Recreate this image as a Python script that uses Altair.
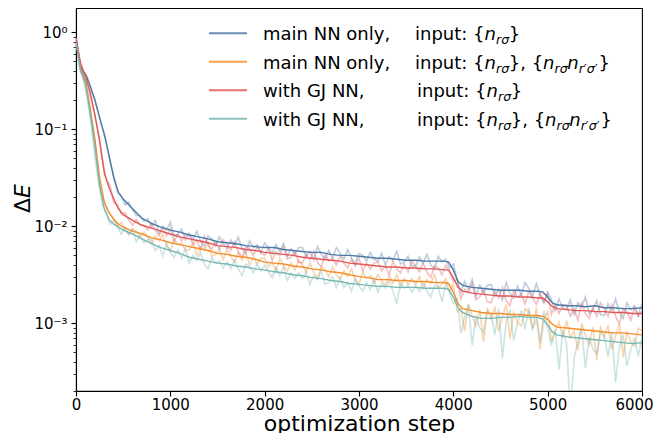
import altair as alt
import pandas as pd

# ---------------- data (log10 of ΔE) ----------------
SERIES = [
    "main NN only, input: {n_rσ}",
    "main NN only, input: {n_rσ}, {n_rσ n_r'σ'}",
    "with GJ NN, input: {n_rσ}",
    "with GJ NN, input: {n_rσ}, {n_rσ n_r'σ'}",
]
COLORS = ["#4e79a7", "#f28e2b", "#e15759", "#76b7b2"]

RAW_STEPS = list(range(0, 6001, 40))

blue_raw = [
    -0.05, -0.32, -0.42, -0.46, -0.59, -0.69, -0.84, -0.99, -1.13, -1.33,
    -1.48, -1.65, -1.69, -1.78, -1.75, -1.83, -1.89, -1.89, -1.95, -1.92,
    -2.00, -1.94, -2.07, -2.00, -2.04, -1.96, -2.10, -2.08, -2.03, -2.14,
    -2.07, -2.14, -2.05, -2.15, -2.21, -2.10, -2.13, -2.20, -2.11, -2.18,
    -2.23, -2.14, -2.20, -2.11, -2.23, -2.28, -2.15, -2.22, -2.19, -2.27,
    -2.17, -2.23, -2.28, -2.19, -2.26, -2.18, -2.31, -2.23, -2.29, -2.22,
    -2.22, -2.31, -2.26, -2.35, -2.21, -2.29, -2.34, -2.25, -2.33, -2.22,
    -2.28, -2.34, -2.24, -2.33, -2.39, -2.28, -2.30, -2.36, -2.27, -2.34,
    -2.36, -2.28, -2.40, -2.31, -2.35, -2.26, -2.39, -2.37, -2.31, -2.41,
    -2.41, -2.32, -2.38, -2.29, -2.40, -2.44, -2.31, -2.37, -2.34, -2.43,
    -2.39, -2.55, -2.68, -2.57, -2.66, -2.55, -2.72, -2.61, -2.69, -2.61,
    -2.60, -2.72, -2.65, -2.76, -2.58, -2.69, -2.74, -2.62, -2.71, -2.58,
    -2.64, -2.72, -2.59, -2.71, -2.79, -2.68, -2.76, -2.87, -2.75, -2.84,
    -2.86, -2.76, -2.91, -2.79, -2.83, -2.73, -2.90, -2.86, -2.77, -2.91,
    -2.92, -2.80, -2.87, -2.75, -2.89, -2.95, -2.79, -2.86, -2.82, -2.92,
    -2.80,
]
orange_raw = [
    -0.08, -0.35, -0.48, -0.62, -0.89, -1.12, -1.48, -1.69, -1.81, -1.87,
    -1.92, -2.00, -1.96, -2.04, -2.09, -2.03, -2.05, -2.11, -2.06, -2.11,
    -2.18, -2.10, -2.15, -2.08, -2.20, -2.25, -2.13, -2.19, -2.17, -2.25,
    -2.24, -2.17, -2.30, -2.21, -2.25, -2.17, -2.31, -2.29, -2.24, -2.34,
    -2.24, -2.31, -2.37, -2.27, -2.35, -2.26, -2.40, -2.32, -2.39, -2.33,
    -2.33, -2.42, -2.37, -2.46, -2.33, -2.41, -2.46, -2.38, -2.45, -2.35,
    -2.40, -2.47, -2.38, -2.47, -2.54, -2.42, -2.45, -2.52, -2.42, -2.50,
    -2.54, -2.46, -2.52, -2.44, -2.55, -2.60, -2.47, -2.54, -2.51, -2.59,
    -2.50, -2.56, -2.61, -2.51, -2.59, -2.50, -2.63, -2.54, -2.60, -2.54,
    -2.60, -2.52, -2.64, -2.55, -2.59, -2.50, -2.63, -2.60, -2.54, -2.67,
    -2.60, -2.88, -2.85, -3.08, -2.80, -2.92, -3.03, -2.86, -3.19, -2.84,
    -2.96, -2.83, -3.08, -2.93, -2.81, -3.16, -2.89, -2.99, -3.03, -2.85,
    -2.88, -3.06, -2.84, -3.27, -2.96, -2.88, -3.19, -3.08, -2.99, -3.15,
    -2.97, -3.15, -3.08, -3.28, -3.00, -3.12, -3.22, -3.04, -3.38, -3.03,
    -3.15, -3.02, -3.27, -3.13, -3.01, -3.35, -3.08, -3.19, -3.23, -3.05,
    -3.08,
]
red_raw = [
    -0.05, -0.29, -0.41, -0.55, -0.69, -0.86, -1.05, -1.30, -1.52, -1.57,
    -1.76, -1.78, -1.87, -1.86, -1.94, -1.99, -1.93, -1.99, -1.99, -2.04,
    -1.97, -2.04, -2.10, -2.02, -2.10, -2.02, -2.16, -2.08, -2.15, -2.09,
    -2.09, -2.19, -2.14, -2.24, -2.10, -2.19, -2.24, -2.16, -2.24, -2.14,
    -2.19, -2.25, -2.16, -2.26, -2.32, -2.21, -2.23, -2.30, -2.21, -2.28,
    -2.30, -2.22, -2.35, -2.26, -2.30, -2.21, -2.34, -2.32, -2.26, -2.37,
    -2.38, -2.29, -2.35, -2.26, -2.37, -2.42, -2.29, -2.36, -2.33, -2.40,
    -2.31, -2.38, -2.43, -2.34, -2.41, -2.33, -2.46, -2.38, -2.44, -2.38,
    -2.37, -2.46, -2.41, -2.50, -2.36, -2.44, -2.48, -2.39, -2.47, -2.36,
    -2.41, -2.47, -2.38, -2.47, -2.53, -2.41, -2.43, -2.50, -2.40, -2.47,
    -2.57, -2.55, -2.75, -2.65, -2.69, -2.59, -2.76, -2.73, -2.65, -2.78,
    -2.79, -2.67, -2.74, -2.63, -2.77, -2.82, -2.66, -2.73, -2.70, -2.80,
    -2.67, -2.74, -2.81, -2.69, -2.78, -2.70, -2.91, -2.81, -2.90, -2.81,
    -2.81, -2.93, -2.85, -2.97, -2.79, -2.90, -2.95, -2.84, -2.93, -2.79,
    -2.85, -2.93, -2.81, -2.93, -3.01, -2.85, -2.88, -2.97, -2.84, -2.93,
    -2.88,
]
teal_raw = [
    -0.09, -0.39, -0.49, -0.70, -0.95, -1.28, -1.56, -1.78, -1.86, -1.98,
    -1.94, -2.01, -2.08, -2.01, -2.08, -2.03, -2.16, -2.10, -2.17, -2.14,
    -2.14, -2.25, -2.20, -2.31, -2.18, -2.27, -2.32, -2.24, -2.33, -2.23,
    -2.38, -2.30, -2.35, -2.27, -2.39, -2.44, -2.32, -2.38, -2.36, -2.43,
    -2.37, -2.44, -2.35, -2.44, -2.51, -2.39, -2.42, -2.48, -2.39, -2.46,
    -2.40, -2.47, -2.53, -2.43, -2.51, -2.42, -2.56, -2.48, -2.54, -2.48,
    -2.54, -2.47, -2.60, -2.51, -2.55, -2.46, -2.60, -2.58, -2.52, -2.63,
    -2.53, -2.63, -2.58, -2.67, -2.54, -2.62, -2.67, -2.58, -2.65, -2.55,
    -2.68, -2.59, -2.64, -2.56, -2.67, -2.80, -2.58, -2.64, -2.61, -2.68,
    -2.61, -2.67, -2.58, -2.67, -2.73, -2.61, -2.63, -2.78, -2.59, -2.69,
    -2.80, -2.74, -3.10, -2.94, -2.81, -3.23, -2.92, -3.05, -3.09, -2.88,
    -2.90, -3.12, -2.85, -3.36, -2.99, -2.86, -3.18, -3.00, -2.87, -3.06,
    -2.84, -3.06, -2.96, -3.20, -2.87, -3.05, -3.23, -3.06, -3.48, -3.07,
    -3.21, -3.90, -3.37, -3.19, -3.05, -3.46, -3.14, -3.27, -3.31, -3.10,
    -3.13, -3.35, -3.09, -3.61, -3.25, -3.12, -3.44, -3.28, -3.15, -3.34,
    -3.15,
]

SMOOTH_STEPS = [0, 50, 100, 150, 200, 250, 300, 350, 400, 450, 500,
                600, 700, 800, 900, 1000, 1100, 1200, 1300, 1400, 1500,
                1600, 1700, 1800, 1900, 2000, 2100, 2200, 2300, 2400, 2500,
                2600, 2700, 2800, 2900, 3000, 3100, 3200, 3300, 3400, 3500,
                3600, 3700, 3800, 3900,
                3950, 4000, 4050,
                4100, 4200, 4300, 4400, 4500, 4600, 4700, 4800, 4900,
                4950, 5000, 5050,
                5100, 5200, 5300, 5400, 5500, 5600, 5700, 5800, 5900, 6000]

blue_smooth = [
    -0.06, -0.37, -0.43, -0.55, -0.70, -0.88, -1.05, -1.27, -1.50, -1.65, -1.72,
    -1.82, -1.92, -1.97, -2.01, -2.04, -2.06, -2.09, -2.11, -2.13, -2.16,
    -2.17, -2.18, -2.20, -2.21, -2.22, -2.22, -2.24, -2.25, -2.26, -2.27,
    -2.27, -2.29, -2.30, -2.30, -2.31, -2.32, -2.33, -2.33, -2.34, -2.35,
    -2.35, -2.36, -2.36, -2.36,
    -2.37, -2.45, -2.57,
    -2.61, -2.63, -2.64, -2.65, -2.66, -2.66, -2.66, -2.67, -2.67,
    -2.68, -2.73, -2.79,
    -2.81, -2.82, -2.82, -2.83, -2.82, -2.84, -2.84, -2.85, -2.85, -2.84,
]
orange_smooth = [
    -0.08, -0.38, -0.50, -0.78, -1.10, -1.50, -1.75, -1.86, -1.93, -1.98, -2.01,
    -2.05, -2.08, -2.12, -2.14, -2.17, -2.19, -2.21, -2.23, -2.25, -2.28,
    -2.29, -2.31, -2.32, -2.34, -2.37, -2.38, -2.39, -2.41, -2.42, -2.44,
    -2.45, -2.47, -2.48, -2.50, -2.52, -2.53, -2.55, -2.55, -2.56, -2.56,
    -2.57, -2.57, -2.58, -2.58,
    -2.59, -2.68, -2.80,
    -2.85, -2.87, -2.89, -2.90, -2.90, -2.91, -2.91, -2.92, -2.92,
    -2.93, -2.96, -3.01,
    -3.04, -3.05, -3.06, -3.07, -3.08, -3.09, -3.10, -3.10, -3.11, -3.12,
]
red_smooth = [
    -0.06, -0.33, -0.45, -0.62, -0.85, -1.12, -1.45, -1.60, -1.72, -1.82, -1.88,
    -1.94, -1.99, -2.02, -2.05, -2.08, -2.11, -2.13, -2.15, -2.17, -2.20,
    -2.21, -2.22, -2.24, -2.25, -2.27, -2.28, -2.29, -2.30, -2.32, -2.33,
    -2.34, -2.35, -2.36, -2.38, -2.39, -2.40, -2.41, -2.42, -2.42, -2.43,
    -2.43, -2.44, -2.44, -2.45,
    -2.45, -2.53, -2.63,
    -2.67, -2.69, -2.70, -2.71, -2.72, -2.72, -2.73, -2.73, -2.74,
    -2.74, -2.78, -2.83,
    -2.85, -2.86, -2.87, -2.87, -2.88, -2.88, -2.89, -2.89, -2.90, -2.90,
]
teal_smooth = [
    -0.10, -0.40, -0.53, -0.82, -1.18, -1.58, -1.82, -1.93, -1.98, -2.01, -2.04,
    -2.08, -2.13, -2.18, -2.22, -2.25, -2.28, -2.32, -2.34, -2.36, -2.38,
    -2.39, -2.41, -2.42, -2.44, -2.45, -2.47, -2.48, -2.50, -2.51, -2.53,
    -2.54, -2.56, -2.57, -2.59, -2.60, -2.61, -2.62, -2.62, -2.63, -2.63,
    -2.63, -2.64, -2.64, -2.64,
    -2.65, -2.73, -2.84,
    -2.89, -2.93, -2.95, -2.95, -2.94, -2.94, -2.93, -2.94, -2.94,
    -2.96, -3.02, -3.09,
    -3.12, -3.14, -3.15, -3.16, -3.17, -3.18, -3.19, -3.20, -3.21, -3.20,
]

RAW = [blue_raw, orange_raw, red_raw, teal_raw]
SMOOTH = [blue_smooth, orange_smooth, red_smooth, teal_smooth]

X_TICKS = [0, 1000, 2000, 3000, 4000, 5000, 6000]
Y_DOMAIN = [2.0e-4, 1.78]
Y_TICKS = [m * 10.0 ** k for k in range(-4, 1) for m in range(1, 10)
           if Y_DOMAIN[0] <= m * 10.0 ** k <= Y_DOMAIN[1]]

# ---------------- layout ----------------
W, H = 566, 383
FONT = "DejaVu Sans"

MAJOR = "abs(log(datum.value)/LN10 - round(log(datum.value)/LN10)) < 0.000001"
Y_LABELS = ("abs(datum.value/1 - 1) < 1e-6 ? '10\u2070' : "
            "abs(datum.value/0.1 - 1) < 1e-6 ? '10\u207b\u00b9' : "
            "abs(datum.value/0.01 - 1) < 1e-6 ? '10\u207b\u00b2' : "
            "abs(datum.value/0.001 - 1) < 1e-6 ? '10\u207b\u00b3' : ''")

x_enc = alt.X("step:Q",
              scale=alt.Scale(domain=[0, 6000], nice=False),
              axis=alt.Axis(values=X_TICKS, format="d", grid=False,
                            tickSize=5, tickWidth=1.1, labelPadding=1,
                            labelFontSize=15, labelFlush=False,
                            labelOffset={"condition": {"test": "datum.value == 6000", "value": -8},
                                         "value": 0},
                            title="optimization step", titleFontSize=22,
                            titleFontWeight="normal", titleY=39,
                            titleBaseline="alphabetic"))
y_enc = alt.Y("dE:Q",
              scale=alt.Scale(type="log", domain=Y_DOMAIN, nice=False),
              axis=alt.Axis(values=Y_TICKS, grid=False, labelExpr=Y_LABELS,
                            labelOverlap=False, labelFontSize=15, labelPadding=4,
                            tickSize={"condition": {"test": MAJOR, "value": 5}, "value": 3},
                            tickWidth={"condition": {"test": MAJOR, "value": 1.1}, "value": 0.8},
                            title=""))


def frame(steps, logs):
    return pd.DataFrame({"step": steps, "dE": [10.0 ** v for v in logs]})


layers = []
for vals, col in zip(RAW, COLORS):
    layers.append(alt.Chart(frame(RAW_STEPS, vals)).mark_line(
        clip=True, color=col, strokeWidth=1.6, opacity=0.38).encode(x=x_enc, y=y_enc))
for vals, col in zip(SMOOTH, COLORS):
    layers.append(alt.Chart(frame(SMOOTH_STEPS, vals)).mark_line(
        clip=True, color=col, strokeWidth=1.4).encode(x=x_enc, y=y_enc))

# ---------------- legend (handles + mathtext-like labels) ----------------
LEG_NAMES = ["main NN only,", "main NN only,", "with GJ NN,", "with GJ NN,"]
LEG_PAIR = [False, True, False, True]
LEG_INPUT_X = [339, 339, 341, 341]
ROW0, ROWSTEP = 32.0, 28.5
FS = 18
SUBFS = 0.7 * FS
ADV = {"i": .278, "n": .634, "p": .635, "u": .634, "t": .392, ":": .337, " ": .318,
       "{": .636, "}": .636, ",": .318, "r": .411, "\u03c3": .603, "\u2032": .275}


def tw(s, size):
    return sum(ADV[c] for c in s) * size


up_rows, it_rows, handle_rows = [], [], []
for i, (name, pair, ix) in enumerate(zip(LEG_NAMES, LEG_PAIR, LEG_INPUT_X)):
    base = ROW0 + i * ROWSTEP
    handle_rows.append({"ly": base - 6.7, "c": COLORS[i]})
    up_rows.append({"px": 187, "py": base, "t": name, "s": FS})
    up_rows.append({"px": ix, "py": base, "t": "input:", "s": FS})
    x = ix + tw("input: ", FS)
    seq = [("{", False, False), ("n", True, False), ("r\u03c3", True, True), ("}", False, False)]
    if pair:
        seq += [(", ", False, False), ("{", False, False), ("n", True, False),
                ("r\u03c3", True, True), ("n", True, False),
                ("r\u2032\u03c3\u2032", True, True), ("}", False, False)]
    for txt, ital, sub in seq:
        size = SUBFS if sub else FS
        row = {"px": x, "py": base + (4 if sub else 0), "t": txt.strip(), "s": size}
        (it_rows if ital else up_rows).append(row)
        x += tw(txt, size)

layers.append(alt.Chart(pd.DataFrame(handle_rows)).mark_rule(
    strokeWidth=2, opacity=0.85).encode(
    x=alt.value(133), x2=alt.value(171),
    y=alt.Y("ly:Q", scale=None, axis=None),
    color=alt.Color("c:N", scale=None)))
for rows, style in [(up_rows, "normal"), (it_rows, "italic")]:
    layers.append(alt.Chart(pd.DataFrame(rows)).mark_text(
        align="left", baseline="alphabetic", font=FONT, fontStyle=style,
        color="black").encode(
        x=alt.X("px:Q", scale=None, axis=None),
        y=alt.Y("py:Q", scale=None, axis=None),
        text="t:N",
        size=alt.Size("s:Q", scale=None)))

# ---------------- y title  ΔE ----------------
layers.append(alt.Chart(pd.DataFrame({"t": ["\u0394"]})).mark_text(
    angle=270, align="left", baseline="alphabetic", fontSize=22, font=FONT,
    color="black").encode(x=alt.value(-46), y=alt.value(205), text="t:N"))
layers.append(alt.Chart(pd.DataFrame({"t": ["E"]})).mark_text(
    angle=270, align="left", baseline="alphabetic", fontSize=22, font=FONT,
    fontStyle="italic", color="black").encode(x=alt.value(-46), y=alt.value(190), text="t:N"))

chart = alt.layer(*layers).properties(
    width=W, height=H,
    padding={"left": 68, "top": 0, "right": 12, "bottom": 42},
    autosize=alt.AutoSizeParams(type="none"),
).configure(font=FONT).configure_view(
    stroke="black", strokeWidth=1.1
).configure_axis(
    labelFont=FONT, titleFont=FONT, domainColor="black", tickColor="black",
    labelColor="black", titleColor="black", domainWidth=1.1
)

chart.save("out.html", embed_options={"renderer": "svg", "actions": False})
